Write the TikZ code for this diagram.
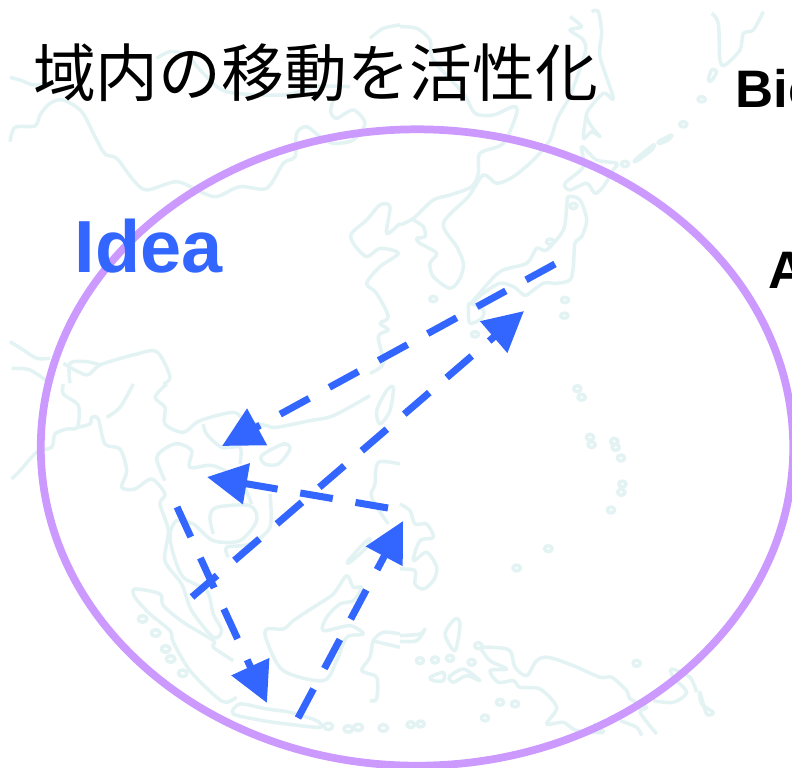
\documentclass[tikz,border=0pt]{standalone}
\usepackage{fontspec}
\setmainfont{Liberation Sans}
\newfontfamily\cjk{Noto Sans CJK JP}
\usetikzlibrary{arrows.meta, shapes.geometric}
\definecolor{ideablue}{HTML}{3366FF}
\definecolor{ovalpurple}{HTML}{CC99FF}
\definecolor{coastgreen}{HTML}{E3F3F3}

\begin{document}
\begin{tikzpicture}[x=0.01cm, y=-0.01cm]
\tikzstyle{coast} = [draw=coastgreen, line width=1pt, line join=round]
\tikzstyle{route} = [draw=ideablue, line width=2pt, dash pattern=on 3.3mm off 2.3mm, -{Triangle[length=4mm, width=4mm]}]

\useasboundingbox (0,0) rectangle (792,767);

% Map, upper left
\begin{scope}[shift={(0,0)}, scale=0.3333]
\draw[coast] plot[smooth] coordinates {(30,232) (60,240) (100,255) (140,250)};
\draw[coast] plot[smooth] coordinates {(30,425) (45,382) (105,378) (120,345) (150,310) (190,300) (245,335) (285,410) (315,462) (350,475) (400,540) (440,570) (530,545) (600,575) (650,590) (720,560) (800,565) (850,490) (885,470) (890,400) (920,380) (960,410) (1000,430) (1060,420) (1095,370) (1060,330) (1010,355) (992,335) (1000,300)};
\draw[coast] plot[smooth] coordinates {(470,175) (510,155) (560,165) (610,220) (680,275) (850,285) (950,260) (1050,260)};
\draw[coast] plot[smooth] coordinates {(1110,115) (1150,85) (1200,75)};
\draw[coast] plot[smooth] coordinates {(1200,670) (1160,700) (1170,620) (1140,615) (1100,660) (1055,700) (1060,730) (1100,770) (1140,745) (1195,760) (1140,800) (1100,850) (1130,880) (1165,950) (1140,970) (1165,990) (1135,1010) (1150,1090) (1110,1120)};
\draw[coast] plot[smooth] coordinates {(30,1025) (70,1050) (110,1075) (150,1075)};
\draw[coast] plot[smooth] coordinates {(35,1105) (90,1110) (150,1150)};
\draw[coast] plot[smooth] coordinates {(190,1090) (260,1125) (300,1095) (400,1065) (470,1055) (510,1130) (490,1152)};
\draw[coast] plot[smooth] coordinates {(210,1150) (210,1090) (260,1085) (300,1095)};
\end{scope}

% Map, upper right
\begin{scope}[shift={(400,0)}, scale=0.3333]
\draw[coast] plot[smooth] coordinates {(0,80) (50,85) (90,120) (100,180) (190,280) (225,340) (280,345) (340,320) (350,340) (310,430) (240,460) (235,520) (215,560) (150,585) (100,600) (40,655) (0,675)};
\draw[coast] plot[smooth] coordinates {(510,290) (470,360) (450,420) (400,480) (340,530) (290,550) (250,525) (205,590) (130,670) (170,740) (190,790) (180,835) (150,865) (100,830) (90,790) (110,760) (60,730) (50,715) (75,710) (70,680) (40,660)};
\draw[coast] plot[smooth] coordinates {(575,35) (595,35) (605,100) (600,170) (640,295) (610,280) (560,340) (575,380) (600,410) (575,395) (550,415) (560,340)};
\draw[coast] plot[smooth] coordinates {(510,50) (545,80) (510,90) (550,120) (555,160) (510,290)};
\draw[coast] plot[smooth] coordinates {(935,40) (955,70) (960,180) (975,195) (1020,150) (1030,100) (1060,90) (1090,35)};
\draw[coast] plot[smooth cycle] coordinates {(545,440) (590,480) (650,490) (640,510) (610,560) (585,580) (560,550) (510,570) (495,550) (550,500)};
\draw[coast] plot[smooth cycle] coordinates {(505,590) (540,600) (560,660) (545,710) (525,730) (520,800) (510,840) (470,850) (430,850) (380,885) (365,880) (340,860) (300,850) (250,880) (215,910) (230,890) (300,815) (380,790) (410,745) (440,750) (490,690) (500,620)};
\draw[coast] plot[smooth cycle] coordinates {(210,910) (250,930) (245,955) (210,970) (205,930)};
\draw[coast] plot[smooth cycle] coordinates {(705,480) (760,435) (755,450) (712,482)};
\draw[coast] plot[smooth cycle] coordinates {(775,425) (815,405) (805,420) (780,430)};
\draw[coast] plot[smooth cycle] coordinates {(935,210) (950,215) (935,242) (925,240)};
\foreach \px/\py in {675/492, 850/373, 905/298, 100/897, 495/900, 493/947, 225/1003, 450/725, 520/618} {
    \draw[coast] (\px,\py) ellipse (11 and 8);
}
\end{scope}

% Map, lower left
\begin{scope}[shift={(0,384)}, scale=0.3333]
\draw[coast] plot[smooth] coordinates {(190,0) (190,30) (235,65) (232,130) (200,135) (165,150) (155,190) (110,205) (60,260) (35,285)};
\draw[coast] plot[smooth] coordinates {(232,130) (270,120) (275,100) (295,105) (315,180) (360,195) (380,260) (365,310) (405,315) (455,285) (495,330) (480,360) (505,440) (495,530) (545,600) (575,680) (640,760) (665,740) (640,690) (620,620) (550,580) (520,510) (510,450) (530,410) (580,420) (640,470) (720,470) (770,410) (750,365) (650,370) (630,400) (640,450)};
\draw[coast] plot[smooth] coordinates {(495,290) (470,220) (510,185) (540,180) (575,200) (570,250) (640,245) (720,290) (755,360)};
\draw[coast] plot[smooth] coordinates {(810,330) (810,430) (750,480) (680,490) (685,520)};
\draw[coast] plot[smooth] coordinates {(400,0) (360,70) (320,100)};
\draw[coast] plot[smooth] coordinates {(500,0) (465,40) (495,70) (495,120) (550,145) (600,110) (700,85) (735,110) (800,125) (830,130) (930,110) (1000,95) (1110,35)};
\draw[coast] plot[smooth] coordinates {(610,120) (620,150) (665,190) (720,190) (720,240)};
\draw[coast] plot[smooth cycle] coordinates {(785,215) (850,180) (870,195) (835,240) (795,240)};
\draw[coast] plot[smooth] coordinates {(700,830) (640,790) (640,770) (550,715) (490,665) (480,630) (405,615) (405,640) (450,690) (510,740) (520,775) (570,860) (650,940) (680,955) (710,940)};
\draw[coast] plot[smooth cycle] coordinates {(700,990) (720,960) (800,975) (870,985) (950,1010) (960,1030) (860,1020) (790,1010)};
\draw[coast] plot[smooth cycle] coordinates {(800,735) (850,735) (880,710) (940,670) (1000,630) (1040,575) (1060,610) (1085,610) (1060,650) (1020,660) (980,700) (970,740) (1050,725) (1090,750) (1040,760) (1010,830) (970,890) (850,860) (800,770)};
\draw[coast] plot[smooth] coordinates {(1200,750) (1150,745) (1120,770) (1110,820) (1085,860) (1130,880) (1130,945) (1110,950)};
\draw[coast] plot[smooth] coordinates {(1115,770) (1200,790)};
\draw[coast] plot[smooth cycle] coordinates {(1045,530) (1090,480) (1110,465) (1100,490) (1050,535)};
\draw[coast] plot[smooth cycle] coordinates {(1130,80) (1160,20) (1180,10) (1170,80) (1140,120)};
\draw[coast] plot[smooth] coordinates {(1200,240) (1135,235) (1125,300) (1115,340) (1165,420)};
\foreach \px/\py in {428/705, 467/747, 497/795, 512/825, 548/868, 985/1027, 1045/1035, 1075/1030, 1150/1032} {
    \draw[coast] (\px,\py) ellipse (13 and 10);
}
\end{scope}

% Map, lower right
\begin{scope}[shift={(400,384)}, scale=0.3333]
\draw[coast] plot[smooth] coordinates {(0,360) (30,380) (45,420) (80,420) (100,460) (60,470) (40,530) (80,505) (110,550) (100,590) (70,615) (45,600) (45,560) (0,555)};
\draw[coast] plot[smooth] coordinates {(240,790) (280,790) (330,800) (345,850) (380,875) (410,830) (445,820) (520,845) (600,880) (635,880) (680,920) (690,945) (740,970) (720,985) (770,1050)};
\draw[coast] plot[smooth] coordinates {(240,790) (270,830) (320,855) (270,860) (295,895) (340,890) (360,910) (420,915) (470,970) (440,1020) (490,1015) (530,1040) (610,1045) (580,1020)};
\draw[coast] plot[smooth] coordinates {(660,1010) (710,1030) (725,1055)};
\draw[coast] plot[smooth] coordinates {(760,950) (820,955) (860,925) (820,880) (815,855) (870,880) (890,925)};
\draw[coast] plot[smooth cycle] coordinates {(900,925) (905,960) (940,985) (920,990)};
\draw[coast] plot[smooth] coordinates {(145,880) (190,855) (240,890) (200,875) (160,895) (145,880)};
\draw[coast] plot[smooth cycle] coordinates {(90,880) (130,865) (130,890) (100,890)};
\draw[coast] plot[smooth cycle] coordinates {(135,750) (165,705) (180,720) (165,800)};
\draw[coast] plot[smooth] coordinates {(0,755) (60,750) (75,735) (50,770) (0,772)};
\foreach \px/\py in {532/14, 545/40, 570/160, 575/182, 643/172, 647/190, 663/222, 667/300, 664/325, 633/378, 445/494, 350/552, 710/838, 235/785, 150/823, 215/835, 60/830, 105/828, 300/955, 345/960, 255/1002, 32/1022, 62/1020} {
    \draw[coast] (\px,\py) ellipse (11 and 9);
}
\end{scope}

\coordinate (japan) at (555,264);
\coordinate (indochina) at (222,446);
\coordinate (malay) at (192,597);
\coordinate (honshu) at (524,311);
\coordinate (borneo) at (388,508);
\coordinate (siam) at (207,477);
\coordinate (burma) at (177,507);
\coordinate (java) at (267,703);
\coordinate (bali) at (298,718);
\coordinate (celebes) at (403,521);

\node (oval) [ellipse, draw=ovalpurple, line width=2.2pt, inner sep=0pt, minimum width=7.52cm, minimum height=6.36cm] at (417,447.5) {};

\node (title) [anchor=west, inner sep=0pt, font=\fontsize{17.85pt}{20pt}\cjk] at (32.5,73) {域内の移動を活性化};
\node (idea) [anchor=base west, inner sep=0pt, text=ideablue, font=\fontsize{21pt}{24pt}\bfseries] at (74,272) {Idea};
\node (bic) [anchor=base west, inner sep=0pt, font=\fontsize{15pt}{18pt}\bfseries] at (735,107) {Bic};
\node (apart) [anchor=base west, inner sep=0pt, font=\fontsize{15pt}{18pt}\bfseries] at (768,288) {A};

% Draw arrows
\foreach \from/\to in {japan/indochina, malay/honshu, borneo/siam, burma/java, bali/celebes} {
    \draw[route] (\from) -- (\to);
}

\end{tikzpicture}
\end{document}
